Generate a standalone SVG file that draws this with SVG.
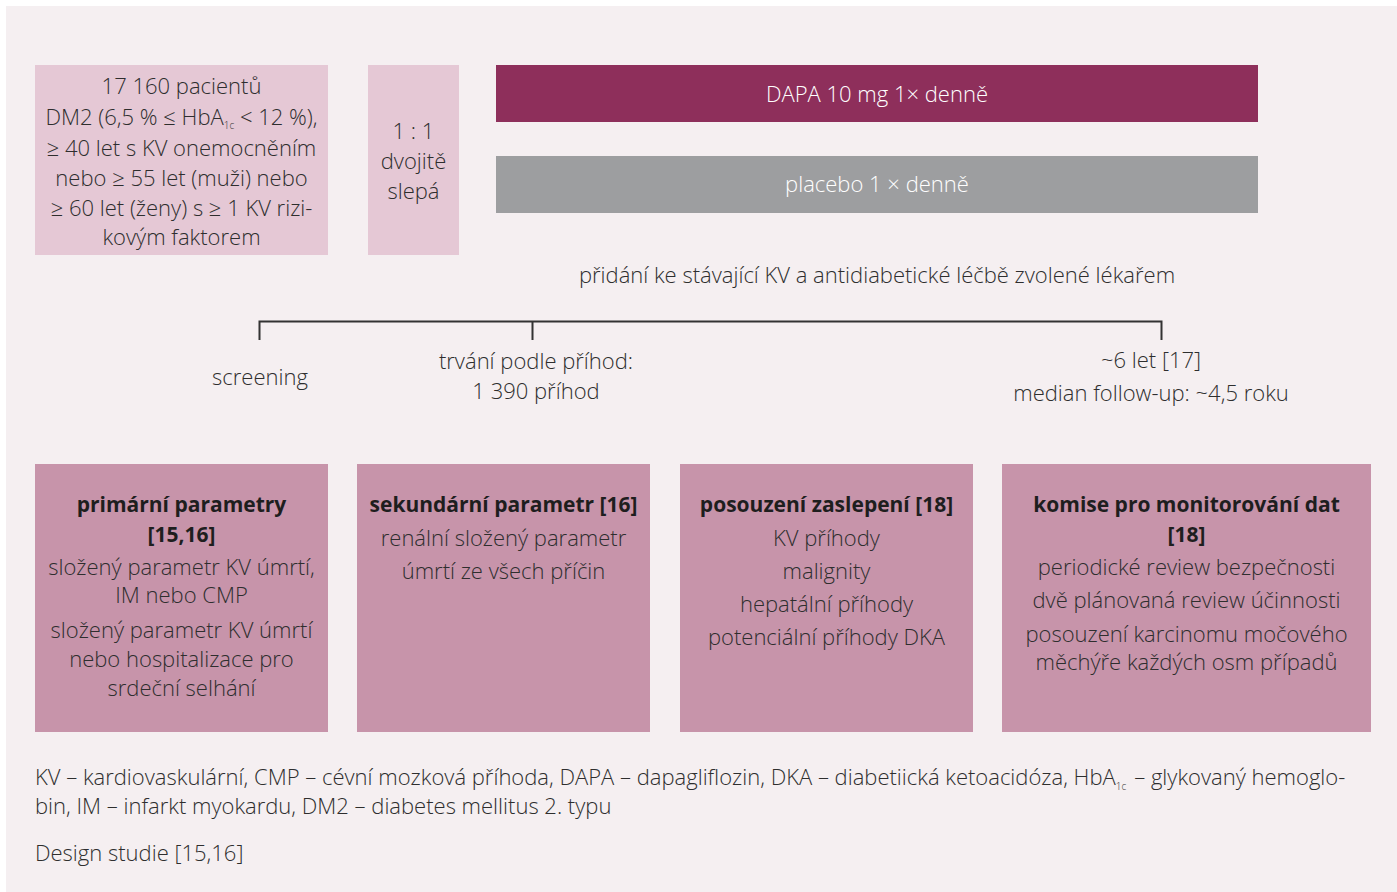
<svg xmlns="http://www.w3.org/2000/svg" width="1397" height="892" viewBox="0 0 1397 892">
<style>
text{font-family:"Open Sans","Liberation Sans",sans-serif;font-size:22px;fill:#2e2e2e;text-anchor:middle;font-weight:300}
.b{font-weight:700;fill:#1e1e1e;font-size:21px}
.w{fill:#fff}
.l{text-anchor:start}
.sub{font-size:10px}
.light{fill:#e5c8d5}
.dark{fill:#c794aa}
</style>
<rect x="0" y="0" width="1397" height="892" fill="#fff"/>
<rect x="6" y="6" width="1391" height="886" fill="#f5eff1"/>
<g id="patients">
<rect class="light" x="35" y="65" width="293" height="190"/>
<text x="181.5" y="94">17 160 pacientů</text>
<text x="181.5" y="125">DM2 (6,5 % ≤ HbA<tspan class="sub" dy="4">1c</tspan><tspan dy="-4"> &lt; 12 %),</tspan></text>
<text x="181.5" y="156">≥ 40 let s KV onemocněním</text>
<text x="181.5" y="186">nebo ≥ 55 let (muži) nebo</text>
<text x="181.5" y="216">≥ 60 let (ženy) s ≥ 1 KV rizi-</text>
<text x="181.5" y="245">kovým faktorem</text>
</g>
<g id="random">
<rect class="light" x="368" y="65" width="91" height="190"/>
<text x="413.5" y="139">1 : 1</text>
<text x="413.5" y="169">dvojitě</text>
<text x="413.5" y="199">slepá</text>
</g>
<g id="dapa">
<rect x="496" y="65" width="762" height="57" fill="#8e2f5b"/>
<text class="w" x="877" y="102">DAPA 10 mg 1× denně</text>
</g>
<g id="placebo">
<rect x="496" y="156" width="762" height="57" fill="#9d9ea0"/>
<text class="w" x="877" y="192">placebo 1 × denně</text>
</g>
<g id="addon">
<text x="877" y="283">přidání ke stávající KV a antidiabetické léčbě zvolené lékařem</text>
</g>
<g id="connectors">
<path d="M259.5 340V321.5H1161.5V340M532.5 321.5V340" fill="none" stroke="#333" stroke-width="2"/>
</g>
<g id="screening"><text x="260" y="385">screening</text></g>
<g id="duration">
<text x="536" y="369">trvání podle příhod:</text>
<text x="536" y="399">1 390 příhod</text>
</g>
<g id="years">
<text x="1151" y="368">~6 let [17]</text>
<text x="1151" y="401">median follow-up: ~4,5 roku</text>
</g>
<g id="primary">
<rect class="dark" x="35" y="464" width="293" height="268"/>
<text class="b" x="181.5" y="512">primární parametry</text>
<text class="b" x="181.5" y="542">[15,16]</text>
<text x="181.5" y="575">složený parametr KV úmrtí,</text>
<text x="181.5" y="603">IM nebo CMP</text>
<text x="181.5" y="638">složený parametr KV úmrtí</text>
<text x="181.5" y="667">nebo hospitalizace pro</text>
<text x="181.5" y="696">srdeční selhání</text>
</g>
<g id="secondary">
<rect class="dark" x="357" y="464" width="293" height="268"/>
<text class="b" x="503.5" y="512">sekundární parametr [16]</text>
<text x="503.5" y="546">renální složený parametr</text>
<text x="503.5" y="579">úmrtí ze všech příčin</text>
</g>
<g id="blinded">
<rect class="dark" x="680" y="464" width="293" height="268"/>
<text class="b" x="826.5" y="512">posouzení zaslepení [18]</text>
<text x="826.5" y="546">KV příhody</text>
<text x="826.5" y="579">malignity</text>
<text x="826.5" y="612">hepatální příhody</text>
<text x="826.5" y="645">potenciální příhody DKA</text>
</g>
<g id="committee">
<rect class="dark" x="1002" y="464" width="369" height="268"/>
<text class="b" x="1186.5" y="512">komise pro monitorování dat</text>
<text class="b" x="1186.5" y="542">[18]</text>
<text x="1186.5" y="575">periodické review bezpečnosti</text>
<text x="1186.5" y="608">dvě plánovaná review účinnosti</text>
<text x="1186.5" y="642">posouzení karcinomu močového</text>
<text x="1186.5" y="670">měchýře každých osm případů</text>
</g>
<g id="legend">
<text class="l" x="35" y="785">KV – kardiovaskulární, CMP – cévní mozková příhoda, DAPA – dapagliflozin, DKA – diabetiická ketoacidóza, HbA<tspan class="sub" dy="5">1c</tspan><tspan dy="-5" dx="8">– glykovaný hemoglo-</tspan></text>
<text class="l" x="35" y="814">bin, IM – infarkt myokardu, DM2 – diabetes mellitus 2. typu</text>
<text class="l" x="35" y="861">Design studie [15,16]</text>
</g>
</svg>
